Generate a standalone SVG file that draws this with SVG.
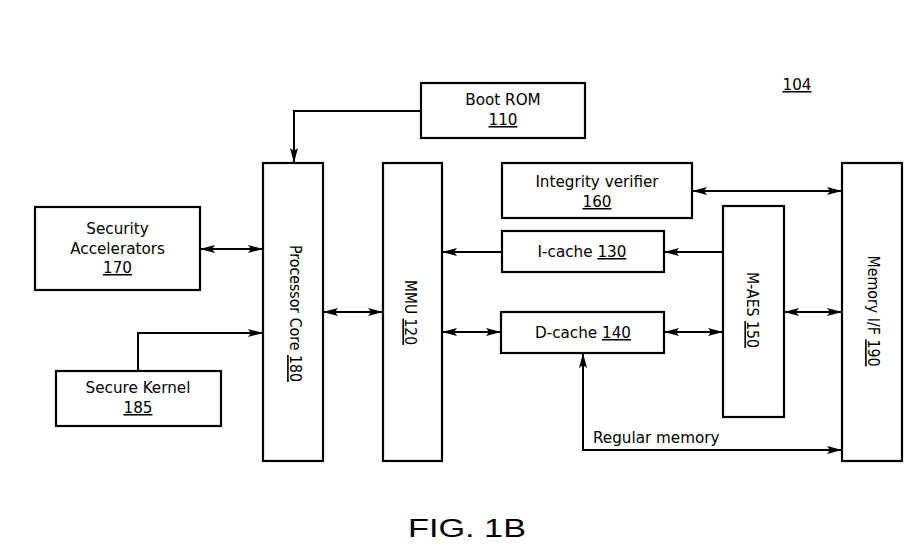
<svg xmlns="http://www.w3.org/2000/svg" width="924" height="555" viewBox="0 0 924 555">
<style>
  .box { fill: #fff; stroke: #000; stroke-width: 2.2; }
  .t { font-family: "DejaVu Sans", Verdana, sans-serif; font-size: 15.2px; fill: #000; text-anchor: middle; }
  .v { font-family: "DejaVu Sans", Verdana, sans-serif; font-size: 16px; fill: #000; text-anchor: middle; }
  .u { text-decoration: underline; }
  .c { fill: none; stroke: #000; stroke-width: 2; }
  .fig { font-family: "Liberation Sans", Arial, sans-serif; font-size: 26px; fill: #000; }
</style>
<defs>
  <marker id="ah" markerUnits="userSpaceOnUse" markerWidth="16" markerHeight="10" refX="15" refY="4" orient="auto-start-reverse" viewBox="0 0 16 8">
    <path d="M0,0 L15,4 L0,8 L3,4 z" fill="#000"/>
  </marker>
</defs>
<rect width="924" height="555" fill="#fff"/>

<g id="label104">
  <text class="t" x="797" y="90"><tspan class="u">104</tspan></text>
</g>

<g id="bootrom">
  <rect class="box" x="421" y="83" width="164" height="55"/>
  <text class="t" x="503" y="105">Boot ROM</text>
  <text class="t" x="503" y="125"><tspan class="u">110</tspan></text>
</g>

<g id="secacc">
  <rect class="box" x="35" y="207" width="165" height="83"/>
  <text class="t" x="117.5" y="234">Security</text>
  <text class="t" x="117.5" y="254">Accelerators</text>
  <text class="t" x="117.5" y="273"><tspan class="u">170</tspan></text>
</g>

<g id="seckernel">
  <rect class="box" x="56" y="371" width="165" height="55"/>
  <text class="t" x="138" y="393">Secure Kernel</text>
  <text class="t" x="138" y="413"><tspan class="u">185</tspan></text>
</g>

<g id="proc">
  <rect class="box" x="263" y="163" width="60" height="298"/>
  <text class="v" transform="translate(289.7,313.5) rotate(90)" textLength="137" lengthAdjust="spacingAndGlyphs">Processor Core <tspan class="u">180</tspan></text>
</g>

<g id="mmu">
  <rect class="box" x="383" y="163" width="59" height="298"/>
  <text class="v" transform="translate(405,312.5) rotate(90)" textLength="65" lengthAdjust="spacingAndGlyphs">MMU <tspan class="u">120</tspan></text>
</g>

<g id="integ">
  <rect class="box" x="502" y="163" width="190" height="55"/>
  <text class="t" x="597" y="187">Integrity verifier</text>
  <text class="t" x="597" y="207"><tspan class="u">160</tspan></text>
</g>

<g id="icache">
  <rect class="box" x="502" y="231" width="162" height="41"/>
  <text class="t" x="582" y="257">I-cache <tspan class="u">130</tspan></text>
</g>

<g id="dcache">
  <rect class="box" x="501" y="312" width="163" height="41"/>
  <text class="t" x="583" y="338">D-cache <tspan class="u">140</tspan></text>
</g>

<g id="maes">
  <rect class="box" x="723" y="206" width="61" height="211"/>
  <text class="v" transform="translate(747,310) rotate(90)" textLength="76" lengthAdjust="spacingAndGlyphs">M-AES <tspan class="u">150</tspan></text>
</g>

<g id="memif">
  <rect class="box" x="842" y="163" width="60" height="298"/>
  <text class="v" transform="translate(867.7,311) rotate(90)" textLength="111" lengthAdjust="spacingAndGlyphs">Memory I/F <tspan class="u">190</tspan></text>
</g>

<g id="connectors">
  <path class="c" d="M421,111 H294 V163" marker-end="url(#ah)"/>
  <path class="c" d="M200,249 H263" marker-start="url(#ah)" marker-end="url(#ah)"/>
  <path class="c" d="M138,371 V333 H263" marker-end="url(#ah)"/>
  <path class="c" d="M323,312 H383" marker-start="url(#ah)" marker-end="url(#ah)"/>
  <path class="c" d="M502,252 H442" marker-end="url(#ah)"/>
  <path class="c" d="M723,252 H664" marker-end="url(#ah)"/>
  <path class="c" d="M442,332 H501" marker-start="url(#ah)" marker-end="url(#ah)"/>
  <path class="c" d="M664,332 H723" marker-start="url(#ah)" marker-end="url(#ah)"/>
  <path class="c" d="M784,312 H842" marker-start="url(#ah)" marker-end="url(#ah)"/>
  <path class="c" d="M692,191 H842" marker-start="url(#ah)" marker-end="url(#ah)"/>
  <path class="c" d="M583,353 V450 H842" marker-start="url(#ah)" marker-end="url(#ah)"/>
  <text class="t" x="593" y="443" style="text-anchor:start">Regular memory</text>
</g>

<text class="fig" x="408" y="537" textLength="118" lengthAdjust="spacingAndGlyphs">FIG. 1B</text>
</svg>
